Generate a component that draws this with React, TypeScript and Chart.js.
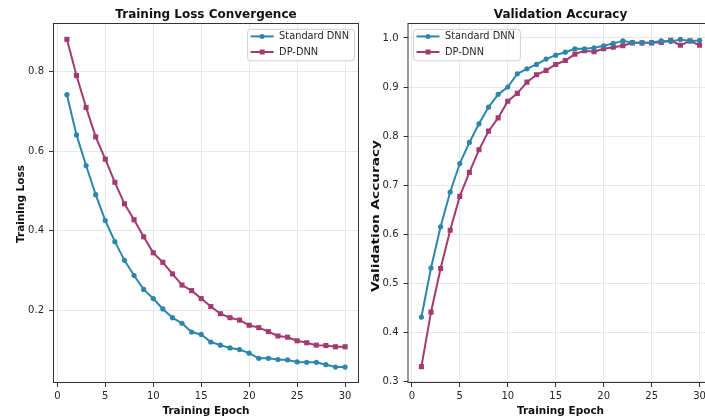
import React, { useEffect, useRef } from "react";
import { Chart, registerables } from "chart.js";

Chart.register(...registerables);

const epochs = [1, 2, 3, 4, 5, 6, 7, 8, 9, 10, 11, 12, 13, 14, 15, 16, 17, 18, 19, 20, 21, 22, 23, 24, 25, 26, 27, 28, 29, 30];

const lossStandard = [0.742, 0.641, 0.564, 0.491, 0.426, 0.373, 0.326, 0.288, 0.253, 0.23, 0.204, 0.182, 0.168, 0.146, 0.14, 0.121, 0.113, 0.106, 0.102, 0.093, 0.08, 0.08, 0.077, 0.076, 0.071, 0.07, 0.07, 0.064, 0.058, 0.058];
const lossDP = [0.881, 0.79, 0.71, 0.636, 0.58, 0.522, 0.468, 0.428, 0.385, 0.345, 0.321, 0.292, 0.264, 0.25, 0.23, 0.21, 0.192, 0.182, 0.176, 0.163, 0.157, 0.147, 0.136, 0.133, 0.124, 0.119, 0.113, 0.112, 0.109, 0.109];

const accStandard = [0.431, 0.531, 0.615, 0.686, 0.744, 0.787, 0.825, 0.859, 0.885, 0.9, 0.927, 0.937, 0.946, 0.957, 0.965, 0.971, 0.978, 0.978, 0.98, 0.984, 0.989, 0.994, 0.991, 0.99, 0.991, 0.994, 0.993, 0.997, 0.994, 0.995];
const accDP = [0.33, 0.441, 0.53, 0.608, 0.677, 0.726, 0.772, 0.81, 0.837, 0.871, 0.887, 0.91, 0.925, 0.934, 0.946, 0.954, 0.967, 0.974, 0.972, 0.978, 0.981, 0.984, 0.99, 0.99, 0.99, 0.991, 0.995, 0.985, 0.994, 0.985];

const xTicks = [0, 5, 10, 15, 20, 25, 30];
const lossTicks = [0.2, 0.4, 0.6, 0.8];
const accTicks = [0.3, 0.4, 0.5, 0.6, 0.7, 0.8, 0.9, 1.0];

const seriesNames = ["Standard DNN", "DP-DNN"];
const BLUE = "#2E86AB";
const MAG = "#A23B72";
const FONT = '"DejaVu Sans", sans-serif';
const TEXT = "#262626";

type Cfg = {
  title: string;
  xLabel: string;
  yLabel: string;
  yLabelX: number;
  yLabelY?: number;
  yLabelLen?: number;
  legend: "left" | "right";
};

function decorPlugin(cfg: Cfg) {
  return {
    id: "decor",
    afterDraw(chart: any) {
      const { ctx, chartArea: a } = chart;
      ctx.save();
      // frame
      ctx.strokeStyle = "#333333";
      ctx.lineWidth = 1;
      ctx.strokeRect(a.left + 0.5, a.top + 0.5, a.right - a.left - 1, a.bottom - a.top - 1);
      // titles
      ctx.fillStyle = "#111111";
      ctx.textAlign = "center";
      ctx.textBaseline = "alphabetic";
      ctx.font = `bold 12px ${FONT}`;
      ctx.fillText(cfg.title, (a.left + a.right) / 2, 17.5);
      ctx.font = `bold 10.5px ${FONT}`;
      ctx.fillText(cfg.xLabel, (a.left + a.right) / 2, 413.5);
      ctx.save();
      ctx.translate(cfg.yLabelX, cfg.yLabelY ?? (a.top + a.bottom) / 2);
      ctx.rotate(-Math.PI / 2);
      if (cfg.yLabelLen) {
        const w = ctx.measureText(cfg.yLabel).width;
        ctx.scale(cfg.yLabelLen / w, 1);
      }
      ctx.fillText(cfg.yLabel, 0, 0);
      ctx.restore();
      // legend
      const items = chart.data.datasets.map((d: any) => ({ label: d.label, color: d.borderColor, style: d.pointStyle }));
      ctx.font = `9.8px ${FONT}`;
      const tw = Math.max(...items.map((i: any) => ctx.measureText(i.label).width));
      const bw = 3.5 + 23 + 5.5 + tw + 5;
      const bh = 31.5;
      const bx = cfg.legend === "right" ? a.right - 5 - bw : a.left + 5.5;
      const by = a.top + 5.8;
      ctx.beginPath();
      ctx.roundRect(bx + 0.5, by + 0.5, bw, bh, 3);
      ctx.fillStyle = "rgba(255,255,255,0.85)";
      ctx.fill();
      ctx.strokeStyle = "#d0d0d0";
      ctx.lineWidth = 1;
      ctx.stroke();
      items.forEach((it: any, i: number) => {
        const cy = by + 7.6 + i * 15.6;
        const x0 = bx + 3.5;
        const x1 = x0 + 23;
        ctx.strokeStyle = it.color;
        ctx.lineWidth = 2;
        ctx.beginPath();
        ctx.moveTo(x0, cy);
        ctx.lineTo(x1, cy);
        ctx.stroke();
        ctx.fillStyle = it.color;
        const cx = (x0 + x1) / 2;
        if (it.style === "rect") {
          ctx.fillRect(cx - 2.5, cy - 2.5, 5, 5);
        } else {
          ctx.beginPath();
          ctx.arc(cx, cy, 2.5, 0, Math.PI * 2);
          ctx.fill();
        }
        ctx.fillStyle = TEXT;
        ctx.textAlign = "left";
        ctx.textBaseline = "middle";
        ctx.fillText(it.label, x1 + 5.5, cy + 0.5);
      });
      ctx.restore();
    },
  };
}

function makeConfig(
  s1: number[],
  s2: number[],
  yMin: number,
  yMax: number,
  yTicks: number[],
  yWidth: number,
  rightPad: number,
  cfg: Cfg
): any {
  const gridOpts = { color: "#e8e8e8", tickColor: "#333333", tickLength: 4, lineWidth: 1 };
  const tickFont = { family: FONT, size: 10 };
  return {
    type: "line",
    data: {
      datasets: [
        {
          label: seriesNames[0],
          data: epochs.map((e, i) => ({ x: e, y: s1[i] })),
          borderColor: BLUE,
          backgroundColor: BLUE,
          borderWidth: 2,
          pointStyle: "circle",
          pointRadius: 2.6,
          pointBorderWidth: 0,
          tension: 0,
        },
        {
          label: seriesNames[1],
          data: epochs.map((e, i) => ({ x: e, y: s2[i] })),
          borderColor: MAG,
          backgroundColor: MAG,
          borderWidth: 2,
          pointStyle: "rect",
          pointRadius: 3.6,
          pointBorderWidth: 0,
          tension: 0,
        },
      ],
    },
    options: {
      animation: false,
      responsive: false,
      maintainAspectRatio: false,
      events: [],
      layout: { padding: { top: 23, right: rightPad, left: 0, bottom: 0 } },
      plugins: { legend: { display: false }, title: { display: false }, tooltip: { enabled: false } },
      scales: {
        x: {
          type: "linear",
          min: -0.45,
          max: 31.45,
          afterBuildTicks: (s: any) => {
            s.ticks = xTicks.map((v) => ({ value: v }));
          },
          afterFit: (s: any) => {
            s.height = 35;
          },
          grid: gridOpts,
          border: { display: false },
          ticks: { font: tickFont, color: TEXT, padding: 3, maxRotation: 0, autoSkip: false, callback: (v: any) => String(v) },
        },
        y: {
          type: "linear",
          min: yMin,
          max: yMax,
          afterBuildTicks: (s: any) => {
            s.ticks = yTicks.map((v) => ({ value: v }));
          },
          afterFit: (s: any) => {
            s.width = yWidth;
          },
          grid: gridOpts,
          border: { display: false },
          ticks: { font: tickFont, color: TEXT, padding: 5, autoSkip: false, callback: (v: any) => Number(v).toFixed(1) },
        },
      },
    },
    plugins: [decorPlugin(cfg)],
  };
}

function ChartCanvas({ config, left, width }: { config: () => any; left: number; width: number }) {
  const ref = useRef<HTMLCanvasElement | null>(null);
  useEffect(() => {
    if (!ref.current) return;
    const chart = new Chart(ref.current, config());
    return () => chart.destroy();
  }, []);
  return (
    <canvas
      ref={ref}
      width={width}
      height={418}
      style={{ position: "absolute", left, top: 0, width, height: 418 }}
    />
  );
}

export default function App() {
  return (
    <div style={{ position: "absolute", left: 0, top: 0, width: 705, height: 418, overflow: "hidden", background: "#fff" }}>
      <ChartCanvas
        left={0}
        width={365}
        config={() =>
          makeConfig(lossStandard, lossDP, 0.018, 0.922, lossTicks, 53, 6, {
            title: "Training Loss Convergence",
            xLabel: "Training Epoch",
            yLabel: "Training Loss",
            yLabelX: 24,
            yLabelY: 204,
            legend: "right",
          })
        }
      />
      <ChartCanvas
        left={365}
        width={365}
        config={() =>
          makeConfig(accStandard, accDP, 0.2966, 1.0305, accTicks, 42.5, 16.5, {
            title: "Validation Accuracy",
            xLabel: "Training Epoch",
            yLabel: "Validation Accuracy",
            yLabelX: 14.3,
            yLabelY: 216,
            yLabelLen: 152,
            legend: "left",
          })
        }
      />
    </div>
  );
}
